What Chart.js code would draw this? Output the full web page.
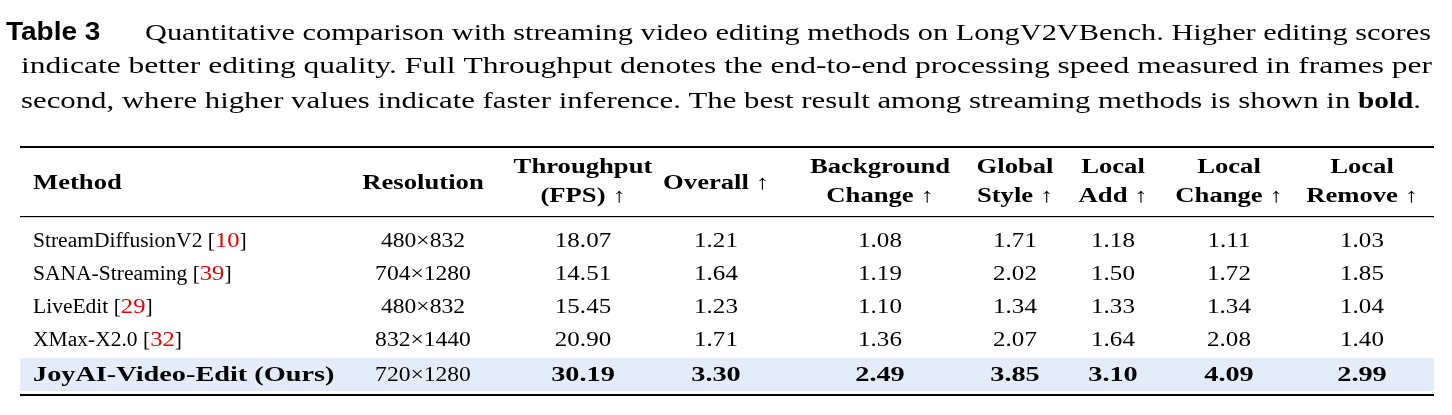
<!DOCTYPE html>
<html><head><meta charset="utf-8">
<script src="https://cdn.jsdelivr.net/npm/chart.js@4"></script>
<style>
html,body{margin:0;padding:0;background:#fff;}
#wrap{position:relative;width:1452px;height:415px;}
canvas{position:absolute;left:0;top:0;}
</style></head><body>
<div id="wrap"><canvas id="c" width="1452" height="415"></canvas></div>
<script>
const captionLines = [
  ["Table 3", "Quantitative comparison with streaming video editing methods on LongV2VBench. Higher editing scores"],
  ["", "indicate better editing quality. Full Throughput denotes the end-to-end processing speed measured in frames per"],
  ["", "second, where higher values indicate faster inference. The best result among streaming methods is shown in "]
];
const headers = [
  ["Method"], ["Resolution"], ["Throughput", "(FPS) ↑"], ["Overall ↑"], ["Background", "Change ↑"],
  ["Global", "Style ↑"], ["Local", "Add ↑"], ["Local", "Change ↑"], ["Local", "Remove ↑"]
];
const methods = ["StreamDiffusionV2", "SANA-Streaming", "LiveEdit", "XMax-X2.0", "JoyAI-Video-Edit (Ours)"];
const refs = ["10", "39", "29", "32", ""];
const resolutions = ["480×832", "704×1280", "480×832", "832×1440", "720×1280"];
const throughput = [18.07, 14.51, 15.45, 20.90, 30.19];
const overall = [1.21, 1.64, 1.23, 1.71, 3.30];
const background = [1.08, 1.19, 1.10, 1.36, 2.49];
const globalStyle = [1.71, 2.02, 1.34, 2.07, 3.85];
const localAdd = [1.18, 1.50, 1.33, 1.64, 3.10];
const localChange = [1.11, 1.72, 1.34, 2.08, 4.09];
const localRemove = [1.03, 1.85, 1.04, 1.40, 2.99];
const numCols = [throughput, overall, background, globalStyle, localAdd, localChange, localRemove];

const colX = [33, 423, 583, 716, 880, 1015, 1113, 1229, 1362];
const rowY = [247, 280, 313, 346, 381];
const SERIF = '"Liberation Serif", "DejaVu Serif", serif';

function txt(ctx, s, x, y, sx, align) {
  const w = ctx.measureText(s).width * sx;
  let x0 = align === 'center' ? x - w / 2 : x;
  ctx.save(); ctx.translate(x0, y); ctx.scale(sx, 1);
  ctx.textAlign = 'left'; ctx.fillText(s, 0, 0); ctx.restore();
  return w;
}

const tablePlugin = {
  id: 'table',
  afterDraw(chart) {
    const ctx = chart.ctx, xs = chart.scales.x, ys = chart.scales.y;
    const X = v => xs.getPixelForValue(v), Y = v => ys.getPixelForValue(v);
    ctx.save();
    ctx.textBaseline = 'alphabetic';
    ctx.fillStyle = '#000';
    // caption
    const capY = [40, 73, 108];
    const capStart = [145, 21, 21];
    const capEnd = [1431, 1432, 1358];
    ctx.font = 'bold 25px "Liberation Sans", Arial, sans-serif';
    txt(ctx, captionLines[0][0], X(6), Y(capY[0]), 1.12, 'left');
    captionLines.forEach((l, i) => {
      ctx.font = '22.5px ' + SERIF;
      const sx = (capEnd[i] - capStart[i]) / ctx.measureText(l[1]).width;
      let x = X(capStart[i]);
      x += txt(ctx, l[1], x, Y(capY[i]), sx, 'left');
      if (i === 2) {
        ctx.font = 'bold 22.5px ' + SERIF;
        x += txt(ctx, 'bold', x, Y(capY[i]), 1.3, 'left');
        ctx.font = '22.5px ' + SERIF;
        txt(ctx, '.', x, Y(capY[i]), sx, 'left');
      }
    });
    // highlight row
    ctx.fillStyle = '#e3ecf8';
    ctx.fillRect(X(20), Y(358), X(1434) - X(20), Y(391) - Y(358));
    // rules
    ctx.fillStyle = '#000';
    ctx.fillRect(X(20), Y(146), X(1434) - X(20), 2);
    ctx.fillRect(X(20), Y(216), X(1434) - X(20), 1.2);
    ctx.fillRect(X(20), Y(394), X(1434) - X(20), 2);
    // headers
    ctx.font = 'bold 20.5px ' + SERIF;
    const BS = 1.3;
    headers.forEach((h, c) => {
      const al = c === 0 ? 'left' : 'center';
      if (h.length === 1) {
        txt(ctx, h[0], X(colX[c]), Y(189), BS, al);
      } else {
        txt(ctx, h[0], X(colX[c]), Y(173), BS, al);
        txt(ctx, h[1], X(colX[c]), Y(202), BS, al);
      }
    });
    // rows
    methods.forEach((m, r) => {
      const best = r === methods.length - 1;
      const y = Y(rowY[r]);
      ctx.fillStyle = '#000';
      ctx.font = (best ? 'bold ' : '') + '20.5px ' + SERIF;
      const ms = best ? 1.38 : 1.05;
      let x = X(colX[0]) + txt(ctx, m + ' ', X(colX[0]), y, ms, 'left');
      if (refs[r]) {
        x += txt(ctx, '[', x, y, ms, 'left');
        ctx.fillStyle = '#e00000'; x += txt(ctx, refs[r], x, y, 1.2, 'left');
        ctx.fillStyle = '#000'; txt(ctx, ']', x, y, ms, 'left');
      }
      ctx.font = '20.5px ' + SERIF;
      txt(ctx, resolutions[r], X(colX[1]), y, 1.15, 'center');
      ctx.font = (best ? 'bold ' : '') + '20.5px ' + SERIF;
      numCols.forEach((col, c) => txt(ctx, col[r].toFixed(2), X(colX[c + 2]), y, best ? 1.38 : 1.22, 'center'));
    });
    ctx.restore();
  }
};

new Chart(document.getElementById('c'), {
  type: 'scatter',
  data: { datasets: [{ data: [], pointRadius: 0 }] },
  options: {
    responsive: false, animation: false,
    layout: { padding: 0 },
    plugins: { legend: { display: false }, tooltip: { enabled: false } },
    scales: {
      x: { type: 'linear', min: 0, max: 1452, display: false },
      y: { type: 'linear', min: 0, max: 415, reverse: true, display: false }
    }
  },
  plugins: [tablePlugin]
});
</script></body></html>
